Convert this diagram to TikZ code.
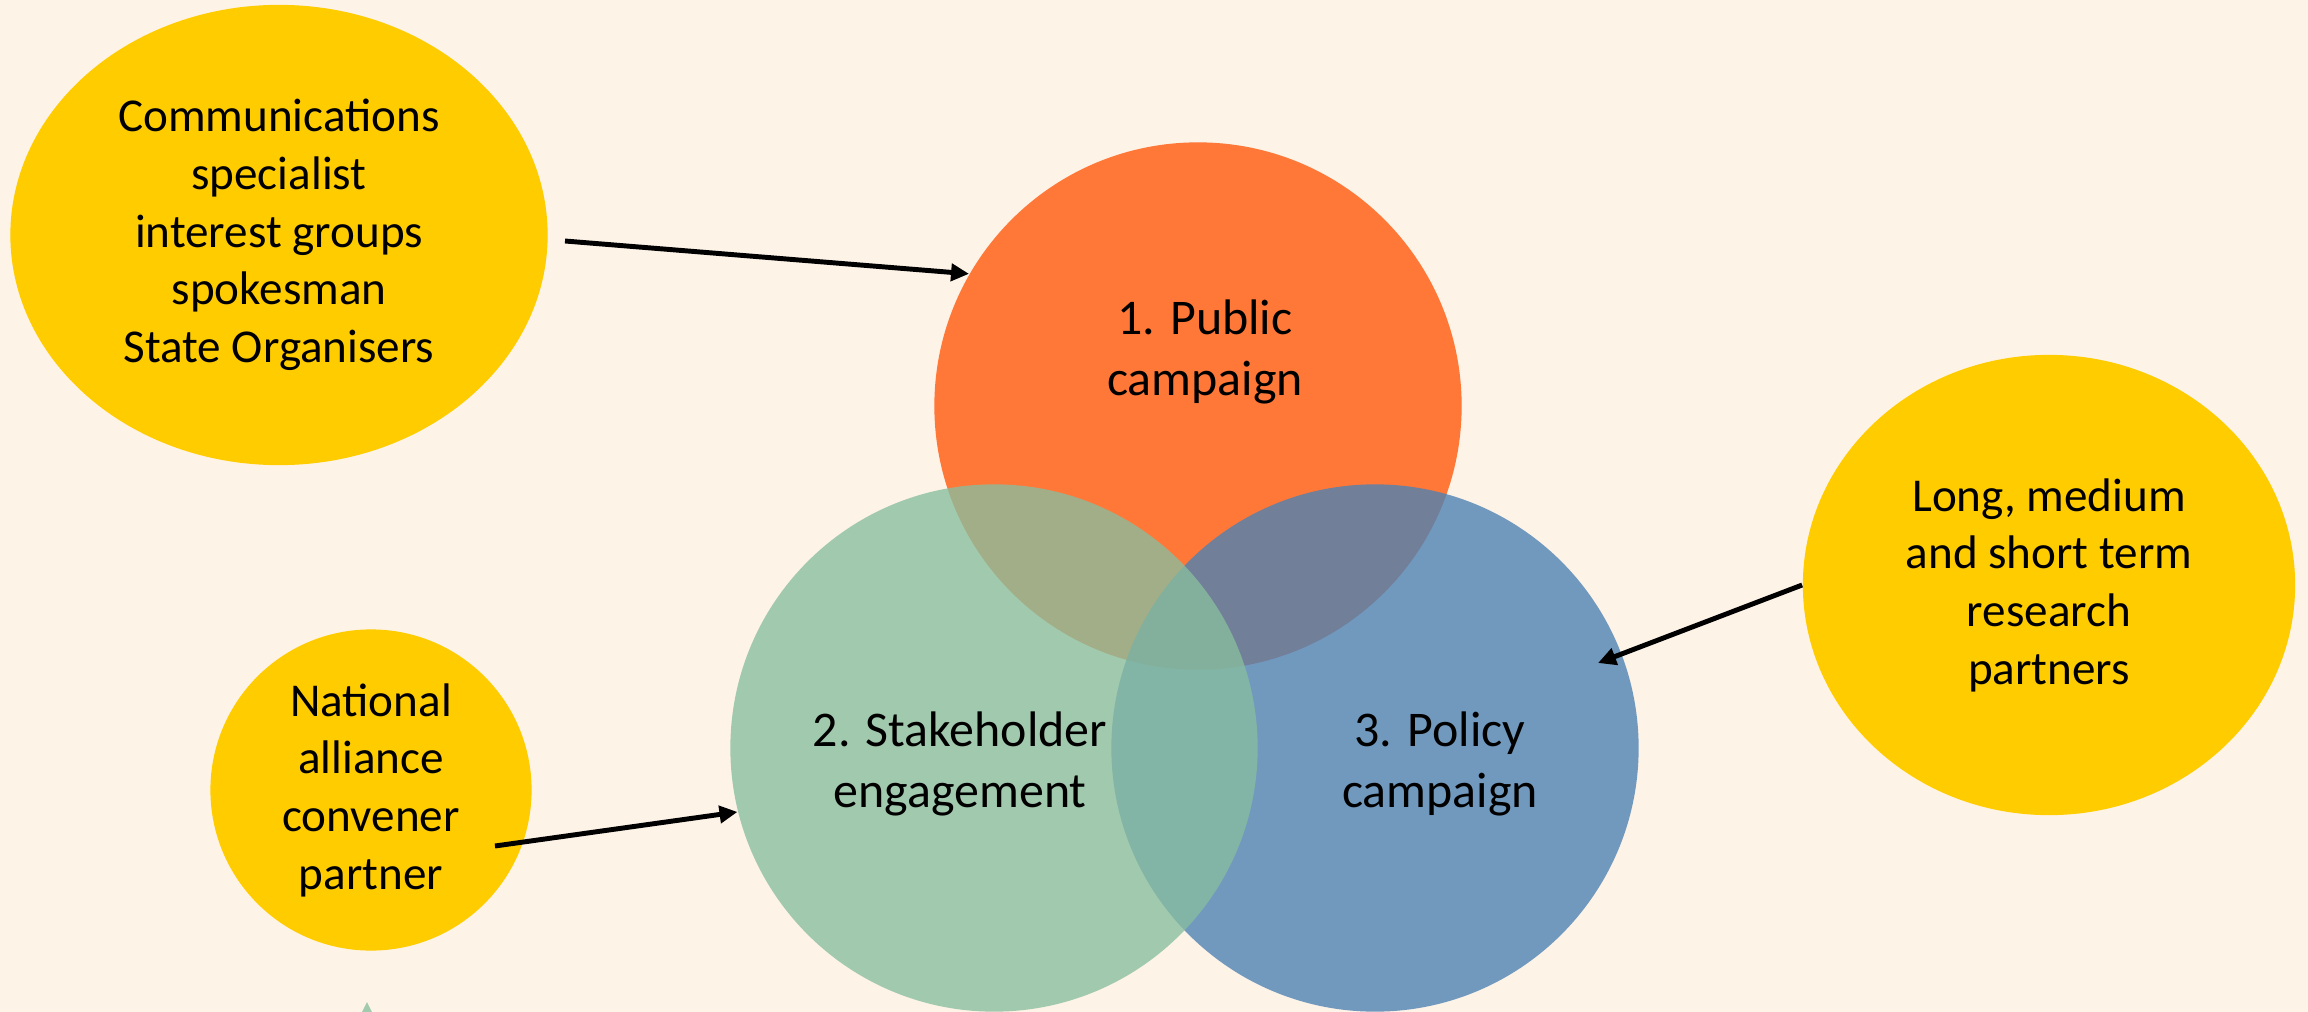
\documentclass[tikz,border=0pt]{standalone}
\usepackage{fontspec}
\setmainfont{Carlito}
\usetikzlibrary{shapes.geometric,arrows.meta}
\definecolor{bgc}{HTML}{FEF3E7}
\definecolor{yel}{HTML}{FFCC00}
\definecolor{org}{HTML}{FF7838}
\definecolor{grn}{RGB}{135,190,158}
\definecolor{blu}{RGB}{76,129,180}
\definecolor{grnsolid}{HTML}{A1CAAE}
\tikzset{
  yellowblob/.style={ellipse, fill=yel, inner sep=0pt, align=center,
    font=\fontsize{13.4}{16.4}\selectfont},
  bigcircle/.style={circle, inner sep=0pt, minimum size=5.27cm},
  bigtext/.style={align=center, inner sep=0pt, font=\fontsize{14.2}{17.6}\selectfont},
  conn/.style={line width=1.4pt, -{Triangle[length=0.18cm,width=0.17cm]}}
}
\begin{document}
\begin{tikzpicture}[x=0.01cm,y=-0.01cm]
\fill[bgc] (0,0) rectangle (2308,1012);
\useasboundingbox (0,0) rectangle (2308,1012);
\clip (0,0) rectangle (2308,1012);

% yellow actor blobs
\node[yellowblob, minimum width=5.37cm, minimum height=4.60cm] (comm) at (279,235)
  {Communications\\specialist\\interest groups\\spokesman\\State Organisers};
\node[yellowblob, minimum width=4.92cm, minimum height=4.60cm] (research) at (2049,585)
  {Long, medium\\and short term\\research\\partners};
\node[yellowblob, minimum width=3.21cm, minimum height=3.21cm] (nat) at (371,790)
  {National\\alliance\\convener\\partner};

% Venn circles
\node[bigcircle, fill=org] (pub) at (1198,406) {};
\node[bigcircle, fill=blu, fill opacity=0.79] (pol) at (1375,748) {};
\node[bigcircle, fill=grn, fill opacity=0.78] (stake) at (994,748) {};

\node[bigtext] (pubtext) at (1205,352) {1. Public\\campaign};
\node[bigtext] (staketext) at (960,764) {2. Stakeholder\\engagement};
\node[bigtext] (poltext) at (1440,764) {3. Policy\\campaign};

% bottom partial arrow shape
\fill[grnsolid] (367,1002) -- (355,1026) -- (379,1026) -- cycle;

% connectors
\coordinate (c1) at (565,241);
\coordinate (c2) at (1598,663);
\coordinate (c3) at (495,846);
\draw[conn] (c1) -- (pub.150);
\draw[conn] (research.west) -- (c2);
\draw[conn] (c3) -- (stake.194);
\end{tikzpicture}
\end{document}
